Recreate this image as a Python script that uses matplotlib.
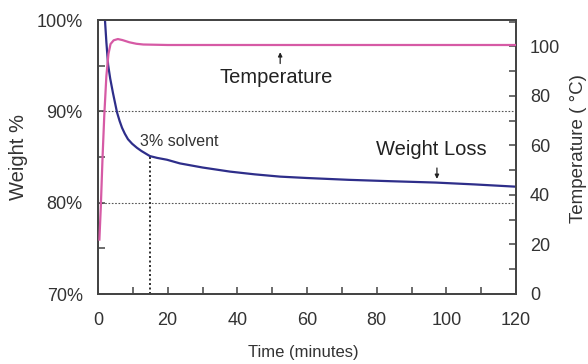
import matplotlib
matplotlib.use("Agg")
import matplotlib.pyplot as plt
from matplotlib.ticker import MultipleLocator, FuncFormatter

plt.rcParams['font.family'] = ['Liberation Sans', 'DejaVu Sans']

# Data
weight_time = [2.0, 2.4, 2.9, 3.5, 4.3, 5.45, 6.2, 6.9, 7.7, 8.6, 9.8, 11.2, 12.5, 14.9,
               17.0, 19.8, 23.5, 30, 37.9, 45, 52.3, 60, 72, 84, 97, 108, 120]
weight_pct = [100, 97.6, 95.1, 93.6, 92.0, 89.9, 88.95, 88.2, 87.55, 86.95, 86.45, 86.0, 85.65, 85.1,
              84.9, 84.7, 84.3, 83.85, 83.4, 83.1, 82.85, 82.7, 82.5, 82.35, 82.2, 82.0, 81.75]

temp_time = [0.4, 0.8, 1.3, 1.8, 2.4, 3.0, 3.6, 4.5, 5.7, 7.0, 9.0, 11.0, 13.0, 20, 60, 120]
temp_c = [22, 35, 55, 72, 88, 97, 101, 102.5, 103, 102.6, 101.7, 101.1, 100.8, 100.6, 100.6, 100.6]

solvent_time = 15.0
solvent_weight = 85.05

fig = plt.figure(figsize=(5.88, 3.64), dpi=100)
ax = fig.add_axes([98/588, 1-294/364, (516-98)/588, (294-20)/364])
ax2 = ax.twinx()

blue = '#2e2e8a'
pink = '#d65aa5'

ax.set_xlim(0, 120)
ax.set_ylim(70, 100)
ax2.set_ylim(0, 110.7)

# gridlines
for yv in [80, 90]:
    ax.axhline(yv, color='#555555', lw=0.8, ls=(0, (1.5, 1.5)), zorder=1)

ax.plot(weight_time, weight_pct, color=blue, lw=1.6, zorder=3, solid_joinstyle='round')
ax2.plot(temp_time, temp_c, color=pink, lw=1.6, zorder=3, solid_joinstyle='round')

ax.plot([solvent_time, solvent_time], [70, solvent_weight], color='#111111', lw=1.2,
        ls=(0, (1.2, 1.5)), zorder=2)
ax.text(12.0, 85.9, '3% solvent', fontsize=11.5, color='#333333', ha='left', va='bottom')

ax.set_xticks([0, 20, 40, 60, 80, 100, 120])
ax.xaxis.set_minor_locator(MultipleLocator(10))
ax.set_yticks([70, 80, 90, 100])
ax.yaxis.set_minor_locator(MultipleLocator(5))
ax.yaxis.set_major_formatter(FuncFormatter(lambda v, p: f'{int(v)}%'))
ax2.set_yticks([0, 20, 40, 60, 80, 100])
ax2.yaxis.set_minor_locator(MultipleLocator(10))

for a in (ax, ax2):
    for s in a.spines.values():
        s.set_color('#444444')
        s.set_linewidth(1.3)

ax.tick_params(axis='both', which='both', direction='in', colors='#444444', labelcolor='#333333',
               labelsize=13, width=1.1, length=5, top=False, right=False)
ax.tick_params(axis='x', pad=13)
ax.tick_params(axis='y', pad=11)
ax2.tick_params(axis='y', which='both', direction='in', colors='#444444', labelcolor='#333333',
                labelsize=13, width=1.1, length=5, pad=10)

ax.set_xlabel('Time (minutes)', fontsize=12, color='#333333')
ax.xaxis.set_label_coords(0.49, -0.186)
ax.set_ylabel('Weight %', fontsize=14.5, color='#333333')
ax.yaxis.set_label_coords(-0.167, 0.5)
ax2.set_ylabel('Temperature ( °C)', fontsize=13.5, color='#333333')
ax2.yaxis.set_label_coords(1.128, 0.53)

# annotations
ax2.annotate('', xy=(52.3, 98.8), xytext=(52.3, 92.0),
             arrowprops=dict(arrowstyle='-|>', color='#222222', lw=0.9, mutation_scale=6))
ax2.text(51.1, 87.3, 'Temperature', fontsize=14.5, color='#222222', ha='center', va='center')

ax.annotate('', xy=(97.3, 82.3), xytext=(97.3, 84.1),
            arrowprops=dict(arrowstyle='-|>', color='#222222', lw=0.9, mutation_scale=6))
ax.text(95.6, 85.8, 'Weight Loss', fontsize=14.5, color='#222222', ha='center', va='center')

fig.savefig('out.png', dpi=100)
